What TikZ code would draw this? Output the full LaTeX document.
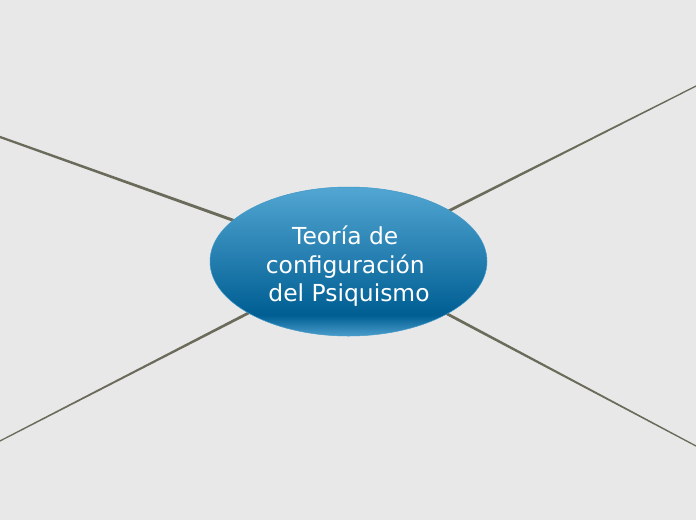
\documentclass[tikz,border=0pt]{standalone}
\usepackage{fontspec}
\setmainfont{DejaVu Sans}
\usetikzlibrary{calc,shapes.geometric,backgrounds}
\definecolor{bg}{HTML}{E8E8E8}
\definecolor{ln}{HTML}{6B6B5B}
\definecolor{btop}{HTML}{52A6D2}
\definecolor{bdark}{HTML}{005E93}
\definecolor{bbot}{HTML}{4A9DCB}
\definecolor{bedge}{HTML}{4098C8}
\pgfdeclareverticalshading{bubble}{100bp}{color(0bp)=(bbot); color(25bp)=(bbot); color(32bp)=(bdark); color(75bp)=(btop); color(100bp)=(btop)}
\newcommand\taperline[4]{%
  \fill[ln] ($(#1)!#3!90:(#2)$) -- ($(#2)!#4!-90:(#1)$) -- ($(#2)!#4!90:(#1)$) -- ($(#1)!#3!-90:(#2)$) -- cycle;}
\newcommand\trsp{\rule{0.318em}{0pt}}
\tikzset{
  topicbox/.style={ellipse, minimum width=277pt, minimum height=149pt, inner sep=0pt, shading=bubble, draw=bedge, line width=0.5pt},
  topictext/.style={font=\fontsize{23.4}{28.5}\selectfont, text=white, align=center, inner sep=0pt}
}
\begin{document}
\begin{tikzpicture}[x=1pt,y=-1pt]
\useasboundingbox (0,0) rectangle (696,520);
\clip (0,0) rectangle (696,520);
\node[topicbox] (topic) at (348.5,261.5) {};
\node[topictext] (label) at (349,266.5) {Teoría de\trsp\\configuración\trsp\\del Psiquismo};
\coordinate (ul) at (-10,133.4);
\coordinate (ur) at (706,81);
\coordinate (ll) at (-10,446.1);
\coordinate (lr) at (706,451.3);
\begin{pgfonlayer}{background}
\fill[bg] (0,0) rectangle (696,520);
\taperline{topic.center}{ul}{1.7pt}{1.1pt}
\taperline{topic.center}{ur}{1.7pt}{0.6pt}
\taperline{topic.center}{ll}{1.7pt}{0.6pt}
\taperline{topic.center}{lr}{1.7pt}{0.6pt}
\end{pgfonlayer}
\end{tikzpicture}
\end{document}
